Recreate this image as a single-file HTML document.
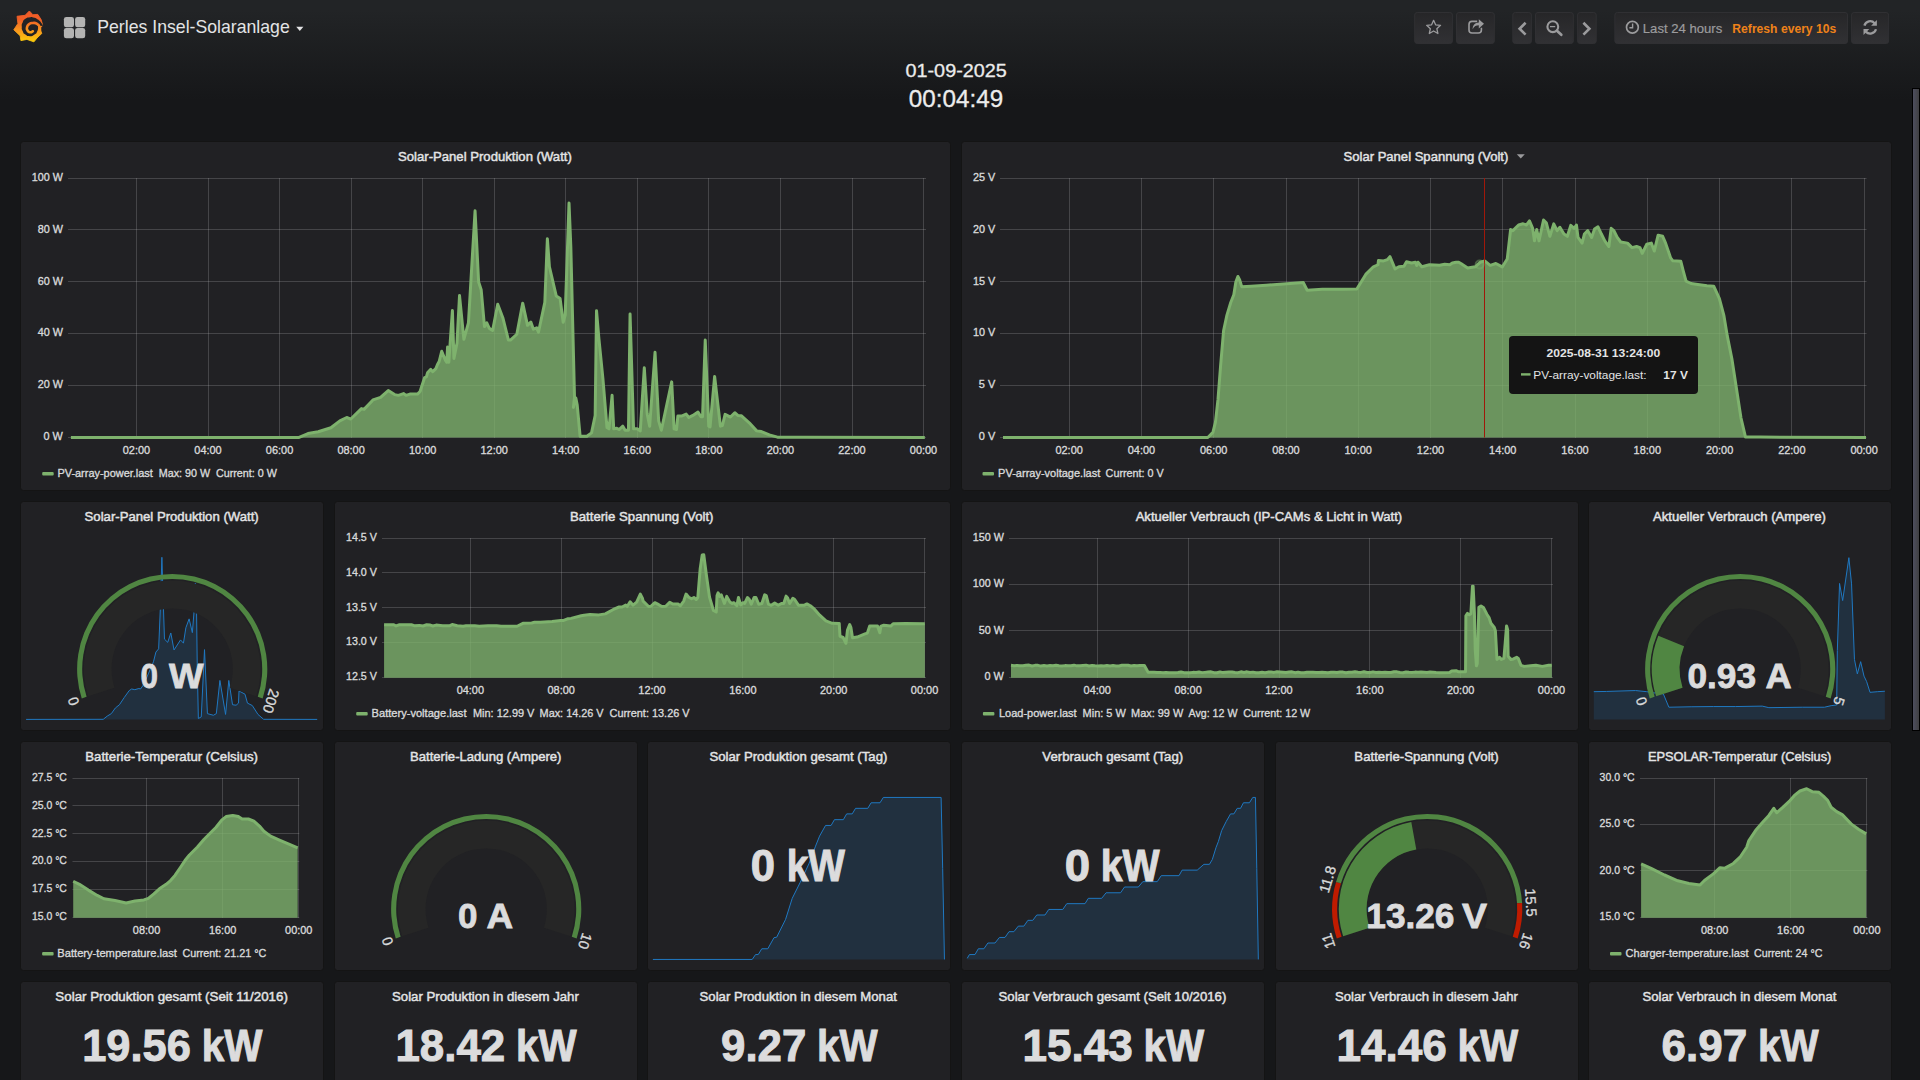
<!DOCTYPE html>
<html><head><meta charset="utf-8"><title>Grafana - Perles Insel-Solaranlage</title>
<style>
html,body{margin:0;padding:0;width:1920px;height:1080px;overflow:hidden;background:#161719;}
body{background:linear-gradient(180deg,#222426 10px,#161719 100px);font-family:"Liberation Sans",sans-serif;}
svg{position:absolute;left:0;top:0;display:block;font-family:"Liberation Sans",sans-serif;}
text{white-space:pre;}
</style></head><body>
<svg width="1920" height="1080" viewBox="0 0 1920 1080">
<defs><linearGradient id="bg1" x1="0" y1="0" x2="0" y2="1"><stop offset="0" stop-color="#262628"/><stop offset="1" stop-color="#313134"/></linearGradient></defs>
<defs><linearGradient id="lg" gradientUnits="userSpaceOnUse" x1="0" y1="11" x2="0" y2="42"><stop offset="0" stop-color="#f05a28"/><stop offset="0.28" stop-color="#f05f26"/><stop offset="0.6" stop-color="#f7931e"/><stop offset="1" stop-color="#fcce0a"/></linearGradient></defs><path d="M29.35,10.99 L32.87,14.69 L37.80,14.40 L41.14,19.61 L42.65,25.31 L40.68,27.70 L40.33,29.99 L41.84,33.40 L37.09,37.91 L33.93,41.85 L26.89,39.39 L20.91,40.62 L20.20,35.80 L13.80,29.82 L17.92,23.48 L17.04,16.27 L25.13,15.32Z" fill="url(#lg)" stroke="url(#lg)" stroke-width="0.9" stroke-linejoin="round"/><path d="M38.15,26.68C37.88,28.11 38.56,28.32 37.36,30.96C36.15,33.60 36.99,32.88 34.52,34.61C32.06,36.34 32.99,36.17 29.95,36.15C26.91,36.13 27.85,36.29 25.41,34.55C22.97,32.80 23.85,33.53 22.64,30.91C21.43,28.29 21.79,29.50 21.79,26.68C21.79,23.87 21.43,25.08 22.64,22.46C23.85,19.84 22.97,20.57 25.41,18.82C27.85,17.07 27.31,17.68 29.95,17.22C32.59,16.75 31.07,16.95 33.32,17.43C35.57,17.90 34.54,17.45 36.69,18.65C38.84,19.85 38.07,19.40 39.76,21.02C41.46,22.64 40.54,21.94 41.78,23.51C43.01,25.09 42.90,25.00 43.46,25.74L40.13,25.97Z" fill="#212225"/><path d="M39.98,31.22C39.81,29.82 40.45,29.44 39.49,27.00C38.52,24.56 39.30,25.25 37.09,23.90C34.89,22.56 35.57,22.86 32.87,22.95C30.17,23.05 30.95,22.72 29.00,24.19C27.05,25.65 27.50,25.24 27.03,27.35C26.56,29.46 26.58,28.88 27.59,30.52C28.60,32.16 28.30,32.02 30.06,32.28C31.82,32.54 31.93,31.62 32.87,31.29" fill="none" stroke="url(#lg)" stroke-width="2.6" stroke-linecap="round" stroke-linejoin="round"/>
<rect x="63.9" y="16.9" width="10.1" height="10.4" rx="2.4" fill="#b3b3b2"/>
<rect x="75.1" y="16.9" width="10.1" height="10.4" rx="2.4" fill="#b3b3b2"/>
<rect x="63.9" y="27.9" width="10.1" height="10.4" rx="2.4" fill="#b3b3b2"/>
<rect x="75.1" y="27.9" width="10.1" height="10.4" rx="2.4" fill="#b3b3b2"/>
<text x="97.25" y="33.20" font-size="18.6" fill="#e3e4e5" textLength="192.52" lengthAdjust="spacingAndGlyphs" >Perles Insel-Solaranlage</text>
<path d="M296.2,26.8h7.2l-3.6,4.2z" fill="#e3e4e5"/>
<rect x="1414.7" y="12.5" width="37.7" height="31" rx="2.5" fill="url(#bg1)" stroke="#303033"/>
<rect x="1456.5" y="12.5" width="37.8" height="31" rx="2.5" fill="url(#bg1)" stroke="#303033"/>
<rect x="1512.8" y="12.5" width="18.6" height="31" rx="2.5" fill="url(#bg1)" stroke="#303033"/>
<rect x="1535.5" y="12.5" width="37.8" height="31" rx="2.5" fill="url(#bg1)" stroke="#303033"/>
<rect x="1577.6" y="12.5" width="18.6" height="31" rx="2.5" fill="url(#bg1)" stroke="#303033"/>
<rect x="1614.9" y="12.5" width="232.6" height="31" rx="2.5" fill="url(#bg1)" stroke="#303033"/>
<rect x="1851.6" y="12.5" width="37.0" height="31" rx="2.5" fill="url(#bg1)" stroke="#303033"/>
<path d="M1433.60,20.30 L1435.60,24.85 L1440.54,25.34 L1436.83,28.65 L1437.89,33.51 L1433.60,31.00 L1429.31,33.51 L1430.37,28.65 L1426.66,25.34 L1431.60,24.85Z" fill="none" stroke="#9b9b9d" stroke-width="1.3" stroke-linejoin="round"/>
<path d="M1477.2,21.4h-5.2a3,3 0 0 0 -3,3v5.6a3,3 0 0 0 3,3h6.4a3,3 0 0 0 3,-3v-2.2" fill="none" stroke="#9b9b9d" stroke-width="1.6"/>
<path d="M1472.6,29.2c0.2,-4.6 2.6,-6.6 6.2,-6.8v-3.2l5.2,4.6l-5.2,4.6v-3.1c-2.6,0 -4.6,0.9 -6.2,3.9z" fill="#9b9b9d"/>
<path d="M1525.6,22.8l-6,5.9l6,5.9" fill="none" stroke="#9b9b9d" stroke-width="2.6"/>
<path d="M1583.4,22.8l6,5.9l-6,5.9" fill="none" stroke="#9b9b9d" stroke-width="2.6"/>
<circle cx="1552.8" cy="26.7" r="5.4" fill="none" stroke="#9b9b9d" stroke-width="2.1"/><path d="M1557.2,31.0l4.1,3.8" stroke="#9b9b9d" stroke-width="2.7" stroke-linecap="round"/><path d="M1550,26.6h5.2" stroke="#9b9b9d" stroke-width="1.3"/>
<circle cx="1632.4" cy="27.3" r="5.9" fill="none" stroke="#9b9b9d" stroke-width="1.7"/><path d="M1632.6,23.4v4.3h-3.2" fill="none" stroke="#9b9b9d" stroke-width="1.4"/>
<text x="1642.84" y="32.99" font-size="13.2" fill="#9c9c9e" textLength="79.39" lengthAdjust="spacingAndGlyphs" stroke="#9c9c9e" stroke-width="0.2" >Last 24 hours</text>
<text x="1732.34" y="32.99" font-size="13.2" fill="#ef8219" font-weight="700" textLength="103.89" lengthAdjust="spacingAndGlyphs" >Refresh every 10s</text>
<path d="M1864.4,25.6a6,6 0 0 1 10.2,-2.4" fill="none" stroke="#9b9b9d" stroke-width="2.3"/><path d="M1876.9,19.9v5.8h-5.8z" fill="#9b9b9d"/>
<path d="M1876.0,29.2a6,6 0 0 1 -10.2,2.4" fill="none" stroke="#9b9b9d" stroke-width="2.3"/><path d="M1863.5,34.9v-5.8h5.8z" fill="#9b9b9d"/>
<text x="905.53" y="77.22" font-size="19.2" fill="#ececec" textLength="101.25" lengthAdjust="spacingAndGlyphs" stroke="#ececec" stroke-width="0.3" >01-09-2025</text>
<text x="908.84" y="106.53" font-size="24.6" fill="#ececec" textLength="94.28" lengthAdjust="spacingAndGlyphs" stroke="#ececec" stroke-width="0.3" >00:04:49</text>
<defs><linearGradient id="sb" x1="0" y1="0" x2="1" y2="0"><stop offset="0" stop-color="#4d4e5e"/><stop offset="1" stop-color="#404042"/></linearGradient></defs>
<rect x="1912" y="88" width="8" height="643" fill="#000"/><rect x="1913" y="89" width="6" height="641" fill="url(#sb)"/>
<rect x="20.5" y="141.5" width="930" height="349" rx="3" fill="#212124" stroke="#141414"/>
<text x="398.04" y="160.65" font-size="13.1" fill="#e3e4e5" textLength="173.79" lengthAdjust="spacingAndGlyphs" stroke="#e3e4e5" stroke-width="0.45" >Solar-Panel Produktion (Watt)</text>
<path d="M68.0,178.5H926.0M68.0,229.5H926.0M68.0,281.5H926.0M68.0,333.5H926.0M68.0,385.5H926.0M68.0,437.5H926.0M136.5,178.0V438.0M208.5,178.0V438.0M279.5,178.0V438.0M351.5,178.0V438.0M422.5,178.0V438.0M494.5,178.0V438.0M565.5,178.0V438.0M637.5,178.0V438.0M708.5,178.0V438.0M780.5,178.0V438.0M852.5,178.0V438.0M923.5,178.0V438.0" stroke="rgba(200,200,200,0.22)" stroke-width="1" fill="none"/>
<path d="M70.90,437.50 L70.90,437.50 L280.00,437.38 L299.10,437.38 L308.01,433.56 L318.20,431.78 L330.93,427.70 L339.84,420.83 L346.72,417.52 L350.79,419.05 L361.49,408.60 L364.03,409.37 L372.95,399.95 L380.59,397.40 L388.23,390.52 L394.59,394.60 L398.41,395.36 L403.50,393.58 L406.05,395.36 L409.87,394.09 L417.51,394.09 L420.06,391.54 L424.64,377.54 L426.42,376.77 L427.70,372.44 L430.75,369.39 L432.79,371.68 L435.84,368.62 L437.37,364.81 L439.15,361.49 L441.70,351.31 L445.52,360.48 L446.79,362.26 L447.56,346.98 L448.83,362.26 L452.40,310.57 L453.92,358.44 L456.98,343.16 L459.53,295.54 L463.86,339.34 L468.44,322.79 L475.06,210.74 L478.62,282.04 L481.17,289.68 L484.48,326.61 L486.77,322.79 L489.32,328.39 L492.63,330.43 L497.72,304.20 L502.82,317.70 L508.42,340.10 L510.46,340.10 L516.82,334.25 L522.68,303.18 L527.52,325.33 L530.83,322.02 L533.37,329.15 L536.68,327.88 L538.47,332.21 L544.83,302.42 L547.38,238.75 L549.42,266.77 L556.29,296.05 L560.11,298.60 L563.17,322.28 L565.20,315.15 L569.02,203.10 L570.81,246.39 L574.50,397.32 L573.42,407.38 L575.84,397.99 L577.18,404.70 L580.13,436.24 L586.85,436.24 L591.54,432.89 L595.17,415.44 L596.51,310.74 L598.93,338.93 L602.95,379.19 L606.98,427.52 L608.99,428.86 L612.08,395.30 L613.69,428.86 L616.38,428.19 L619.06,429.53 L622.82,426.17 L625.10,430.20 L628.46,430.20 L630.07,314.09 L633.56,428.86 L637.18,428.86 L640.27,430.87 L644.30,367.79 L647.25,414.09 L649.66,426.17 L655.03,352.35 L658.66,420.81 L661.34,430.20 L671.68,381.88 L674.09,428.86 L676.51,429.53 L677.85,416.11 L681.48,416.11 L686.17,414.09 L688.86,417.45 L692.89,415.44 L697.99,412.08 L700.94,416.78 L702.55,416.78 L705.23,340.00 L708.72,426.17 L710.07,426.85 L714.63,376.51 L720.40,426.17 L722.42,425.50 L725.10,414.36 L730.47,417.05 L734.77,412.75 L737.85,415.44 L741.21,415.70 L749.26,422.82 L756.64,430.87 L761.34,431.54 L769.40,434.90 L777.45,437.18 L800.00,437.18 L924.80,437.50 L924.80,437.50Z" fill="#7eb26d" fill-opacity="0.8"/>
<path d="M70.90,437.50 L280.00,437.38 L299.10,437.38 L308.01,433.56 L318.20,431.78 L330.93,427.70 L339.84,420.83 L346.72,417.52 L350.79,419.05 L361.49,408.60 L364.03,409.37 L372.95,399.95 L380.59,397.40 L388.23,390.52 L394.59,394.60 L398.41,395.36 L403.50,393.58 L406.05,395.36 L409.87,394.09 L417.51,394.09 L420.06,391.54 L424.64,377.54 L426.42,376.77 L427.70,372.44 L430.75,369.39 L432.79,371.68 L435.84,368.62 L437.37,364.81 L439.15,361.49 L441.70,351.31 L445.52,360.48 L446.79,362.26 L447.56,346.98 L448.83,362.26 L452.40,310.57 L453.92,358.44 L456.98,343.16 L459.53,295.54 L463.86,339.34 L468.44,322.79 L475.06,210.74 L478.62,282.04 L481.17,289.68 L484.48,326.61 L486.77,322.79 L489.32,328.39 L492.63,330.43 L497.72,304.20 L502.82,317.70 L508.42,340.10 L510.46,340.10 L516.82,334.25 L522.68,303.18 L527.52,325.33 L530.83,322.02 L533.37,329.15 L536.68,327.88 L538.47,332.21 L544.83,302.42 L547.38,238.75 L549.42,266.77 L556.29,296.05 L560.11,298.60 L563.17,322.28 L565.20,315.15 L569.02,203.10 L570.81,246.39 L574.50,397.32 L573.42,407.38 L575.84,397.99 L577.18,404.70 L580.13,436.24 L586.85,436.24 L591.54,432.89 L595.17,415.44 L596.51,310.74 L598.93,338.93 L602.95,379.19 L606.98,427.52 L608.99,428.86 L612.08,395.30 L613.69,428.86 L616.38,428.19 L619.06,429.53 L622.82,426.17 L625.10,430.20 L628.46,430.20 L630.07,314.09 L633.56,428.86 L637.18,428.86 L640.27,430.87 L644.30,367.79 L647.25,414.09 L649.66,426.17 L655.03,352.35 L658.66,420.81 L661.34,430.20 L671.68,381.88 L674.09,428.86 L676.51,429.53 L677.85,416.11 L681.48,416.11 L686.17,414.09 L688.86,417.45 L692.89,415.44 L697.99,412.08 L700.94,416.78 L702.55,416.78 L705.23,340.00 L708.72,426.17 L710.07,426.85 L714.63,376.51 L720.40,426.17 L722.42,425.50 L725.10,414.36 L730.47,417.05 L734.77,412.75 L737.85,415.44 L741.21,415.70 L749.26,422.82 L756.64,430.87 L761.34,431.54 L769.40,434.90 L777.45,437.18 L800.00,437.18 L924.80,437.50" stroke="#7eb26d" stroke-width="3" fill="none" stroke-linejoin="round"/>
<text x="31.83" y="180.91" font-size="11.3" fill="#d8d9da" textLength="31.05" lengthAdjust="spacingAndGlyphs" stroke="#d8d9da" stroke-width="0.35" >100 W</text>
<text x="37.68" y="232.71" font-size="11.3" fill="#d8d9da" textLength="25.21" lengthAdjust="spacingAndGlyphs" stroke="#d8d9da" stroke-width="0.35" >80 W</text>
<text x="37.68" y="284.51" font-size="11.3" fill="#d8d9da" textLength="25.21" lengthAdjust="spacingAndGlyphs" stroke="#d8d9da" stroke-width="0.35" >60 W</text>
<text x="37.68" y="336.31" font-size="11.3" fill="#d8d9da" textLength="25.21" lengthAdjust="spacingAndGlyphs" stroke="#d8d9da" stroke-width="0.35" >40 W</text>
<text x="37.68" y="388.11" font-size="11.3" fill="#d8d9da" textLength="25.21" lengthAdjust="spacingAndGlyphs" stroke="#d8d9da" stroke-width="0.35" >20 W</text>
<text x="43.52" y="439.91" font-size="11.3" fill="#d8d9da" textLength="19.36" lengthAdjust="spacingAndGlyphs" stroke="#d8d9da" stroke-width="0.35" >0 W</text>
<text x="122.75" y="454.21" font-size="11.3" fill="#d8d9da" textLength="27.38" lengthAdjust="spacingAndGlyphs" stroke="#d8d9da" stroke-width="0.35" >02:00</text>
<text x="194.30" y="454.21" font-size="11.3" fill="#d8d9da" textLength="27.38" lengthAdjust="spacingAndGlyphs" stroke="#d8d9da" stroke-width="0.35" >04:00</text>
<text x="265.85" y="454.21" font-size="11.3" fill="#d8d9da" textLength="27.38" lengthAdjust="spacingAndGlyphs" stroke="#d8d9da" stroke-width="0.35" >06:00</text>
<text x="337.40" y="454.21" font-size="11.3" fill="#d8d9da" textLength="27.38" lengthAdjust="spacingAndGlyphs" stroke="#d8d9da" stroke-width="0.35" >08:00</text>
<text x="408.95" y="454.21" font-size="11.3" fill="#d8d9da" textLength="27.38" lengthAdjust="spacingAndGlyphs" stroke="#d8d9da" stroke-width="0.35" >10:00</text>
<text x="480.50" y="454.21" font-size="11.3" fill="#d8d9da" textLength="27.38" lengthAdjust="spacingAndGlyphs" stroke="#d8d9da" stroke-width="0.35" >12:00</text>
<text x="552.05" y="454.21" font-size="11.3" fill="#d8d9da" textLength="27.38" lengthAdjust="spacingAndGlyphs" stroke="#d8d9da" stroke-width="0.35" >14:00</text>
<text x="623.60" y="454.21" font-size="11.3" fill="#d8d9da" textLength="27.38" lengthAdjust="spacingAndGlyphs" stroke="#d8d9da" stroke-width="0.35" >16:00</text>
<text x="695.15" y="454.21" font-size="11.3" fill="#d8d9da" textLength="27.38" lengthAdjust="spacingAndGlyphs" stroke="#d8d9da" stroke-width="0.35" >18:00</text>
<text x="766.70" y="454.21" font-size="11.3" fill="#d8d9da" textLength="27.38" lengthAdjust="spacingAndGlyphs" stroke="#d8d9da" stroke-width="0.35" >20:00</text>
<text x="838.25" y="454.21" font-size="11.3" fill="#d8d9da" textLength="27.38" lengthAdjust="spacingAndGlyphs" stroke="#d8d9da" stroke-width="0.35" >22:00</text>
<text x="909.80" y="454.21" font-size="11.3" fill="#d8d9da" textLength="27.38" lengthAdjust="spacingAndGlyphs" stroke="#d8d9da" stroke-width="0.35" >00:00</text>
<rect x="42.2" y="472.0" width="11.5" height="3.6" rx="1" fill="#7eb26d"/>
<text x="57.40" y="477.21" font-size="11.3" fill="#d8d9da" textLength="95.48" lengthAdjust="spacingAndGlyphs" stroke="#d8d9da" stroke-width="0.35" >PV-array-power.last</text>
<text x="158.80" y="477.21" font-size="11.3" fill="#d8d9da" textLength="51.38" lengthAdjust="spacingAndGlyphs" stroke="#d8d9da" stroke-width="0.35" >Max: 90 W</text>
<text x="215.90" y="477.21" font-size="11.3" fill="#d8d9da" textLength="60.98" lengthAdjust="spacingAndGlyphs" stroke="#d8d9da" stroke-width="0.35" >Current: 0 W</text>
<rect x="961.5" y="141.5" width="930" height="349" rx="3" fill="#212124" stroke="#141414"/>
<text x="1343.54" y="160.65" font-size="13.1" fill="#e3e4e5" textLength="164.79" lengthAdjust="spacingAndGlyphs" stroke="#e3e4e5" stroke-width="0.45" >Solar Panel Spannung (Volt)</text>
<path d="M1516.8,154.2h8l-4,4.4z" fill="#9a9a9c"/>
<path d="M1000.0,178.5H1866.5M1000.0,229.5H1866.5M1000.0,281.5H1866.5M1000.0,333.5H1866.5M1000.0,385.5H1866.5M1000.0,437.5H1866.5M1069.5,178.0V438.0M1141.5,178.0V438.0M1213.5,178.0V438.0M1286.5,178.0V438.0M1358.5,178.0V438.0M1430.5,178.0V438.0M1502.5,178.0V438.0M1575.5,178.0V438.0M1647.5,178.0V438.0M1719.5,178.0V438.0M1791.5,178.0V438.0M1864.5,178.0V438.0" stroke="rgba(200,200,200,0.22)" stroke-width="1" fill="none"/>
<path d="M1003.00,437.50 L1003.00,437.50 L1190.00,437.45 L1207.83,437.45 L1212.92,432.35 L1215.47,422.17 L1218.02,399.24 L1220.57,366.13 L1223.62,330.47 L1226.93,315.19 L1230.75,302.45 L1233.81,294.81 L1235.85,282.07 L1237.89,276.47 L1239.67,280.04 L1241.71,286.66 L1251.13,286.15 L1266.41,285.13 L1286.79,283.86 L1303.35,282.58 L1307.17,290.22 L1322.45,289.21 L1342.83,289.21 L1356.84,288.95 L1365.75,274.43 L1373.39,266.79 L1377.98,264.75 L1378.49,260.42 L1383.58,260.93 L1387.40,259.66 L1389.95,256.60 L1395.04,268.83 L1398.86,266.79 L1403.96,266.28 L1406.51,261.70 L1411.60,262.97 L1415.42,262.21 L1416.69,265.52 L1417.97,262.21 L1421.79,266.79 L1429.43,264.75 L1439.62,265.26 L1444.71,264.24 L1449.81,264.75 L1452.35,262.97 L1456.17,262.21 L1458.72,262.21 L1461.27,263.73 L1467.64,268.06 L1475.28,266.79 L1480.37,262.21 L1484.70,260.93 L1490.21,265.35 L1495.88,263.54 L1502.24,266.94 L1507.23,259.00 L1510.63,229.50 L1512.90,230.63 L1518.57,224.96 L1523.11,223.83 L1526.52,224.96 L1529.47,220.88 L1532.64,228.36 L1534.46,240.84 L1536.73,229.50 L1539.00,240.84 L1543.54,219.97 L1546.26,222.69 L1549.89,236.31 L1553.75,223.83 L1557.15,230.63 L1559.87,227.23 L1563.96,234.04 L1567.36,236.31 L1570.76,225.41 L1574.17,228.36 L1576.44,224.96 L1578.03,237.44 L1582.11,243.11 L1584.38,234.04 L1587.78,230.63 L1591.64,237.44 L1594.59,229.04 L1597.99,226.78 L1601.40,234.04 L1604.80,240.84 L1608.89,246.52 L1611.15,228.36 L1613.88,230.63 L1617.28,237.44 L1620.69,241.98 L1627.49,243.11 L1632.03,247.65 L1636.57,246.52 L1639.97,247.65 L1642.24,253.32 L1646.78,244.25 L1651.32,243.11 L1654.27,251.06 L1658.13,235.17 L1662.66,236.31 L1665.61,243.11 L1670.61,257.86 L1672.87,260.81 L1680.82,261.27 L1683.09,270.34 L1686.04,281.23 L1691.03,283.50 L1697.84,284.41 L1706.91,285.77 L1713.72,286.23 L1719.39,298.71 L1723.93,315.72 L1727.33,336.15 L1731.87,358.84 L1736.41,388.34 L1740.95,417.84 L1745.49,437.12 L1760.01,437.12 L1866.00,437.50 L1866.00,437.50Z" fill="#7eb26d" fill-opacity="0.8"/>
<path d="M1003.00,437.50 L1190.00,437.45 L1207.83,437.45 L1212.92,432.35 L1215.47,422.17 L1218.02,399.24 L1220.57,366.13 L1223.62,330.47 L1226.93,315.19 L1230.75,302.45 L1233.81,294.81 L1235.85,282.07 L1237.89,276.47 L1239.67,280.04 L1241.71,286.66 L1251.13,286.15 L1266.41,285.13 L1286.79,283.86 L1303.35,282.58 L1307.17,290.22 L1322.45,289.21 L1342.83,289.21 L1356.84,288.95 L1365.75,274.43 L1373.39,266.79 L1377.98,264.75 L1378.49,260.42 L1383.58,260.93 L1387.40,259.66 L1389.95,256.60 L1395.04,268.83 L1398.86,266.79 L1403.96,266.28 L1406.51,261.70 L1411.60,262.97 L1415.42,262.21 L1416.69,265.52 L1417.97,262.21 L1421.79,266.79 L1429.43,264.75 L1439.62,265.26 L1444.71,264.24 L1449.81,264.75 L1452.35,262.97 L1456.17,262.21 L1458.72,262.21 L1461.27,263.73 L1467.64,268.06 L1475.28,266.79 L1480.37,262.21 L1484.70,260.93 L1490.21,265.35 L1495.88,263.54 L1502.24,266.94 L1507.23,259.00 L1510.63,229.50 L1512.90,230.63 L1518.57,224.96 L1523.11,223.83 L1526.52,224.96 L1529.47,220.88 L1532.64,228.36 L1534.46,240.84 L1536.73,229.50 L1539.00,240.84 L1543.54,219.97 L1546.26,222.69 L1549.89,236.31 L1553.75,223.83 L1557.15,230.63 L1559.87,227.23 L1563.96,234.04 L1567.36,236.31 L1570.76,225.41 L1574.17,228.36 L1576.44,224.96 L1578.03,237.44 L1582.11,243.11 L1584.38,234.04 L1587.78,230.63 L1591.64,237.44 L1594.59,229.04 L1597.99,226.78 L1601.40,234.04 L1604.80,240.84 L1608.89,246.52 L1611.15,228.36 L1613.88,230.63 L1617.28,237.44 L1620.69,241.98 L1627.49,243.11 L1632.03,247.65 L1636.57,246.52 L1639.97,247.65 L1642.24,253.32 L1646.78,244.25 L1651.32,243.11 L1654.27,251.06 L1658.13,235.17 L1662.66,236.31 L1665.61,243.11 L1670.61,257.86 L1672.87,260.81 L1680.82,261.27 L1683.09,270.34 L1686.04,281.23 L1691.03,283.50 L1697.84,284.41 L1706.91,285.77 L1713.72,286.23 L1719.39,298.71 L1723.93,315.72 L1727.33,336.15 L1731.87,358.84 L1736.41,388.34 L1740.95,417.84 L1745.49,437.12 L1760.01,437.12 L1866.00,437.50" stroke="#7eb26d" stroke-width="3" fill="none" stroke-linejoin="round"/>
<text x="972.99" y="180.91" font-size="11.3" fill="#d8d9da" textLength="22.30" lengthAdjust="spacingAndGlyphs" stroke="#d8d9da" stroke-width="0.35" >25 V</text>
<text x="972.99" y="232.71" font-size="11.3" fill="#d8d9da" textLength="22.30" lengthAdjust="spacingAndGlyphs" stroke="#d8d9da" stroke-width="0.35" >20 V</text>
<text x="972.99" y="284.51" font-size="11.3" fill="#d8d9da" textLength="22.30" lengthAdjust="spacingAndGlyphs" stroke="#d8d9da" stroke-width="0.35" >15 V</text>
<text x="972.99" y="336.31" font-size="11.3" fill="#d8d9da" textLength="22.30" lengthAdjust="spacingAndGlyphs" stroke="#d8d9da" stroke-width="0.35" >10 V</text>
<text x="978.83" y="388.11" font-size="11.3" fill="#d8d9da" textLength="16.45" lengthAdjust="spacingAndGlyphs" stroke="#d8d9da" stroke-width="0.35" >5 V</text>
<text x="978.83" y="439.91" font-size="11.3" fill="#d8d9da" textLength="16.45" lengthAdjust="spacingAndGlyphs" stroke="#d8d9da" stroke-width="0.35" >0 V</text>
<text x="1055.45" y="454.21" font-size="11.3" fill="#d8d9da" textLength="27.38" lengthAdjust="spacingAndGlyphs" stroke="#d8d9da" stroke-width="0.35" >02:00</text>
<text x="1127.72" y="454.21" font-size="11.3" fill="#d8d9da" textLength="27.38" lengthAdjust="spacingAndGlyphs" stroke="#d8d9da" stroke-width="0.35" >04:00</text>
<text x="1199.99" y="454.21" font-size="11.3" fill="#d8d9da" textLength="27.38" lengthAdjust="spacingAndGlyphs" stroke="#d8d9da" stroke-width="0.35" >06:00</text>
<text x="1272.26" y="454.21" font-size="11.3" fill="#d8d9da" textLength="27.38" lengthAdjust="spacingAndGlyphs" stroke="#d8d9da" stroke-width="0.35" >08:00</text>
<text x="1344.53" y="454.21" font-size="11.3" fill="#d8d9da" textLength="27.38" lengthAdjust="spacingAndGlyphs" stroke="#d8d9da" stroke-width="0.35" >10:00</text>
<text x="1416.80" y="454.21" font-size="11.3" fill="#d8d9da" textLength="27.38" lengthAdjust="spacingAndGlyphs" stroke="#d8d9da" stroke-width="0.35" >12:00</text>
<text x="1489.07" y="454.21" font-size="11.3" fill="#d8d9da" textLength="27.38" lengthAdjust="spacingAndGlyphs" stroke="#d8d9da" stroke-width="0.35" >14:00</text>
<text x="1561.34" y="454.21" font-size="11.3" fill="#d8d9da" textLength="27.38" lengthAdjust="spacingAndGlyphs" stroke="#d8d9da" stroke-width="0.35" >16:00</text>
<text x="1633.61" y="454.21" font-size="11.3" fill="#d8d9da" textLength="27.38" lengthAdjust="spacingAndGlyphs" stroke="#d8d9da" stroke-width="0.35" >18:00</text>
<text x="1705.88" y="454.21" font-size="11.3" fill="#d8d9da" textLength="27.38" lengthAdjust="spacingAndGlyphs" stroke="#d8d9da" stroke-width="0.35" >20:00</text>
<text x="1778.15" y="454.21" font-size="11.3" fill="#d8d9da" textLength="27.38" lengthAdjust="spacingAndGlyphs" stroke="#d8d9da" stroke-width="0.35" >22:00</text>
<text x="1850.42" y="454.21" font-size="11.3" fill="#d8d9da" textLength="27.38" lengthAdjust="spacingAndGlyphs" stroke="#d8d9da" stroke-width="0.35" >00:00</text>
<rect x="982.5" y="472.0" width="11.5" height="3.6" rx="1" fill="#7eb26d"/>
<text x="998.10" y="477.21" font-size="11.3" fill="#d8d9da" textLength="102.18" lengthAdjust="spacingAndGlyphs" stroke="#d8d9da" stroke-width="0.35" >PV-array-voltage.last</text>
<text x="1105.60" y="477.21" font-size="11.3" fill="#d8d9da" textLength="58.18" lengthAdjust="spacingAndGlyphs" stroke="#d8d9da" stroke-width="0.35" >Current: 0 V</text>
<path d="M1484.5,178V437.5" stroke="rgb(160,24,10)" stroke-width="1"/>
<circle cx="1479.6" cy="264.6" r="4" fill="none" stroke="rgba(126,178,109,0.45)" stroke-width="2"/>
<rect x="1509" y="336" width="189" height="58" rx="4" fill="#141414"/>
<text x="1546.49" y="356.99" font-size="11.8" fill="#e3e4e5" font-weight="700" textLength="113.71" lengthAdjust="spacingAndGlyphs" >2025-08-31 13:24:00</text>
<rect x="1521" y="373.2" width="9.6" height="2.4" fill="#7eb26d"/>
<text x="1533.39" y="378.79" font-size="11.8" fill="#e3e4e5" textLength="113.21" lengthAdjust="spacingAndGlyphs" >PV-array-voltage.last:</text>
<text x="1663.39" y="378.79" font-size="11.8" fill="#e3e4e5" font-weight="700" textLength="24.51" lengthAdjust="spacingAndGlyphs" >17 V</text>
<rect x="20.5" y="501.5" width="303" height="229" rx="3" fill="#212124" stroke="#141414"/>
<path d="M26.10,719.40 L26.10,719.40 L100.00,719.31 L103.24,719.31 L107.29,716.07 L111.34,713.64 L115.39,707.97 L119.44,704.73 L124.30,697.44 L129.16,690.64 L131.59,689.01 L134.83,689.66 L138.89,688.53 L140.51,689.01 L143.75,684.48 L148.61,673.14 L153.47,661.80 L155.90,652.07 L158.65,648.83 L160.27,609.95 L161.89,557.29 L163.51,609.95 L164.48,639.11 L167.73,642.35 L170.80,632.96 L174.04,649.97 L180.52,639.92 L183.44,643.16 L185.87,627.77 L189.11,618.86 L192.35,632.63 L193.97,612.38 L195.27,583.21 L196.57,613.19 L197.21,663.42 L198.35,718.50 L201.26,716.88 L204.50,649.64 L207.42,713.64 L213.42,715.26 L216.33,713.64 L219.90,680.43 L225.57,714.45 L228.81,680.43 L232.53,704.73 L236.10,705.22 L238.53,703.11 L239.01,690.96 L245.01,694.20 L247.44,703.11 L252.30,705.54 L257.97,714.45 L263.64,719.31 L317.20,719.40 L317.20,719.40Z" fill="rgb(31,118,189)" fill-opacity="0.18"/>
<path d="M26.10,719.40 L100.00,719.31 L103.24,719.31 L107.29,716.07 L111.34,713.64 L115.39,707.97 L119.44,704.73 L124.30,697.44 L129.16,690.64 L131.59,689.01 L134.83,689.66 L138.89,688.53 L140.51,689.01 L143.75,684.48 L148.61,673.14 L153.47,661.80 L155.90,652.07 L158.65,648.83 L160.27,609.95 L161.89,557.29 L163.51,609.95 L164.48,639.11 L167.73,642.35 L170.80,632.96 L174.04,649.97 L180.52,639.92 L183.44,643.16 L185.87,627.77 L189.11,618.86 L192.35,632.63 L193.97,612.38 L195.27,583.21 L196.57,613.19 L197.21,663.42 L198.35,718.50 L201.26,716.88 L204.50,649.64 L207.42,713.64 L213.42,715.26 L216.33,713.64 L219.90,680.43 L225.57,714.45 L228.81,680.43 L232.53,704.73 L236.10,705.22 L238.53,703.11 L239.01,690.96 L245.01,694.20 L247.44,703.11 L252.30,705.54 L257.97,714.45 L263.64,719.31 L317.20,719.40" stroke="rgb(31,120,193)" stroke-width="1" fill="none" stroke-linejoin="round"/>
<path d="M88.13,696.32A88.4,88.4 0 1 1 256.27,696.32L229.83,687.73A60.6,60.6 0 1 0 114.57,687.73Z" fill="#262626"/>
<path d="M81.75,698.39A95.1,95.1 0 1 1 262.65,698.39L257.80,696.81A90.0,90.0 0 1 0 86.60,696.81Z" fill="#508642"/>
<text x="0" y="0" font-size="14.5" fill="#d8d9da" stroke="#d8d9da" stroke-width="0.35" text-anchor="middle" transform="translate(73.29,701.14) rotate(252.00) translate(0,5.1)">0</text>
<text x="0" y="0" font-size="14.5" fill="#d8d9da" stroke="#d8d9da" stroke-width="0.35" text-anchor="middle" transform="translate(271.11,701.14) rotate(468.00) translate(0,5.1)">200</text>
<text x="140.50" y="688.24" font-size="34.2" fill="#dcdcdd" font-weight="700" textLength="17.45" lengthAdjust="spacingAndGlyphs" stroke="#dcdcdd" stroke-width="0.8" >0</text>
<text x="168.90" y="688.24" font-size="34.2" fill="#dcdcdd" font-weight="700" textLength="34.45" lengthAdjust="spacingAndGlyphs" stroke="#dcdcdd" stroke-width="0.8" >W</text>
<text x="84.59" y="520.65" font-size="13.1" fill="#e3e4e5" textLength="174.09" lengthAdjust="spacingAndGlyphs" stroke="#e3e4e5" stroke-width="0.45" >Solar-Panel Produktion (Watt)</text>
<rect x="334.5" y="501.5" width="616" height="229" rx="3" fill="#212124" stroke="#141414"/>
<text x="569.99" y="520.65" font-size="13.1" fill="#e3e4e5" textLength="143.49" lengthAdjust="spacingAndGlyphs" stroke="#e3e4e5" stroke-width="0.45" >Batterie Spannung (Volt)</text>
<path d="M382.0,538.5H926.0M382.0,572.5H926.0M382.0,607.5H926.0M382.0,642.5H926.0M382.0,677.5H926.0M470.5,538.0V678.0M561.5,538.0V678.0M652.5,538.0V678.0M742.5,538.0V678.0M833.5,538.0V678.0M924.5,538.0V678.0" stroke="rgba(200,200,200,0.22)" stroke-width="1" fill="none"/>
<path d="M384.08,677.70 L384.08,624.79 L393.85,624.79 L396.04,625.96 L398.96,624.79 L411.35,624.79 L414.27,625.67 L419.38,625.38 L423.02,625.96 L426.67,624.79 L430.31,625.09 L432.79,625.96 L436.15,625.09 L442.71,625.67 L450.00,625.67 L452.19,624.50 L457.29,625.67 L463.13,626.25 L466.04,625.67 L474.79,625.67 L479.17,626.25 L487.92,625.67 L496.67,625.67 L501.04,626.25 L517.09,626.25 L522.92,623.34 L531.67,623.04 L534.59,622.31 L540.42,622.17 L552.09,621.59 L560.84,620.42 L563.75,620.42 L568.13,618.67 L571.05,618.38 L581.25,615.75 L584.17,615.17 L590.00,614.59 L598.75,614.88 L605.32,613.86 L613.34,609.48 L619.17,607.00 L622.09,607.00 L625.73,605.11 L627.19,606.56 L630.11,601.75 L633.03,605.11 L636.67,602.19 L640.32,594.17 L642.51,598.54 L643.12,601.09 L648.59,606.56 L650.94,606.25 L654.84,602.66 L658.75,604.69 L661.88,606.56 L665.78,606.25 L669.69,602.19 L672.81,604.06 L678.28,604.06 L680.31,605.78 L683.75,601.09 L686.09,594.06 L688.75,597.19 L691.56,598.75 L693.91,597.50 L696.25,599.53 L697.81,597.50 L700.16,569.06 L702.19,555.00 L703.75,554.69 L706.41,575.31 L709.53,597.19 L713.44,610.47 L716.25,612.03 L717.03,595.62 L718.12,592.81 L719.69,596.41 L721.25,594.84 L724.38,603.44 L726.72,596.41 L729.84,601.88 L732.19,603.44 L733.75,602.66 L736.88,605.78 L738.44,597.50 L740.78,605.00 L743.12,602.66 L744.69,603.44 L747.50,597.50 L749.38,599.53 L751.25,604.22 L754.06,597.50 L755.94,597.50 L758.75,604.22 L761.88,603.44 L764.69,594.84 L766.25,595.62 L768.44,604.22 L771.25,605.31 L774.69,603.12 L778.28,605.31 L781.41,603.44 L783.75,603.44 L786.09,596.09 L787.66,597.97 L789.69,603.44 L792.81,598.28 L794.69,599.53 L798.59,605.31 L804.06,605.31 L806.88,603.91 L810.31,605.78 L814.22,608.91 L819.69,615.16 L825.94,620.94 L832.19,623.28 L839.22,623.44 L840.00,636.25 L843.12,637.50 L845.94,643.28 L847.50,630.00 L849.69,624.53 L850.94,627.66 L852.50,637.81 L857.19,637.03 L865.00,633.91 L867.34,633.12 L869.69,626.09 L877.50,626.09 L879.84,632.81 L880.94,626.09 L883.75,625.31 L890.78,626.09 L893.12,623.75 L905.62,623.44 L924.84,623.75 L924.84,677.70Z" fill="#7eb26d" fill-opacity="0.8"/>
<path d="M384.08,624.79 L393.85,624.79 L396.04,625.96 L398.96,624.79 L411.35,624.79 L414.27,625.67 L419.38,625.38 L423.02,625.96 L426.67,624.79 L430.31,625.09 L432.79,625.96 L436.15,625.09 L442.71,625.67 L450.00,625.67 L452.19,624.50 L457.29,625.67 L463.13,626.25 L466.04,625.67 L474.79,625.67 L479.17,626.25 L487.92,625.67 L496.67,625.67 L501.04,626.25 L517.09,626.25 L522.92,623.34 L531.67,623.04 L534.59,622.31 L540.42,622.17 L552.09,621.59 L560.84,620.42 L563.75,620.42 L568.13,618.67 L571.05,618.38 L581.25,615.75 L584.17,615.17 L590.00,614.59 L598.75,614.88 L605.32,613.86 L613.34,609.48 L619.17,607.00 L622.09,607.00 L625.73,605.11 L627.19,606.56 L630.11,601.75 L633.03,605.11 L636.67,602.19 L640.32,594.17 L642.51,598.54 L643.12,601.09 L648.59,606.56 L650.94,606.25 L654.84,602.66 L658.75,604.69 L661.88,606.56 L665.78,606.25 L669.69,602.19 L672.81,604.06 L678.28,604.06 L680.31,605.78 L683.75,601.09 L686.09,594.06 L688.75,597.19 L691.56,598.75 L693.91,597.50 L696.25,599.53 L697.81,597.50 L700.16,569.06 L702.19,555.00 L703.75,554.69 L706.41,575.31 L709.53,597.19 L713.44,610.47 L716.25,612.03 L717.03,595.62 L718.12,592.81 L719.69,596.41 L721.25,594.84 L724.38,603.44 L726.72,596.41 L729.84,601.88 L732.19,603.44 L733.75,602.66 L736.88,605.78 L738.44,597.50 L740.78,605.00 L743.12,602.66 L744.69,603.44 L747.50,597.50 L749.38,599.53 L751.25,604.22 L754.06,597.50 L755.94,597.50 L758.75,604.22 L761.88,603.44 L764.69,594.84 L766.25,595.62 L768.44,604.22 L771.25,605.31 L774.69,603.12 L778.28,605.31 L781.41,603.44 L783.75,603.44 L786.09,596.09 L787.66,597.97 L789.69,603.44 L792.81,598.28 L794.69,599.53 L798.59,605.31 L804.06,605.31 L806.88,603.91 L810.31,605.78 L814.22,608.91 L819.69,615.16 L825.94,620.94 L832.19,623.28 L839.22,623.44 L840.00,636.25 L843.12,637.50 L845.94,643.28 L847.50,630.00 L849.69,624.53 L850.94,627.66 L852.50,637.81 L857.19,637.03 L865.00,633.91 L867.34,633.12 L869.69,626.09 L877.50,626.09 L879.84,632.81 L880.94,626.09 L883.75,625.31 L890.78,626.09 L893.12,623.75 L905.62,623.44 L924.84,623.75" stroke="#7eb26d" stroke-width="3" fill="none" stroke-linejoin="round"/>
<text x="346.00" y="541.01" font-size="11.3" fill="#d8d9da" textLength="30.88" lengthAdjust="spacingAndGlyphs" stroke="#d8d9da" stroke-width="0.35" >14.5 V</text>
<text x="346.00" y="575.76" font-size="11.3" fill="#d8d9da" textLength="30.88" lengthAdjust="spacingAndGlyphs" stroke="#d8d9da" stroke-width="0.35" >14.0 V</text>
<text x="346.00" y="610.51" font-size="11.3" fill="#d8d9da" textLength="30.88" lengthAdjust="spacingAndGlyphs" stroke="#d8d9da" stroke-width="0.35" >13.5 V</text>
<text x="346.00" y="645.26" font-size="11.3" fill="#d8d9da" textLength="30.88" lengthAdjust="spacingAndGlyphs" stroke="#d8d9da" stroke-width="0.35" >13.0 V</text>
<text x="346.00" y="680.01" font-size="11.3" fill="#d8d9da" textLength="30.88" lengthAdjust="spacingAndGlyphs" stroke="#d8d9da" stroke-width="0.35" >12.5 V</text>
<text x="456.65" y="693.91" font-size="11.3" fill="#d8d9da" textLength="27.38" lengthAdjust="spacingAndGlyphs" stroke="#d8d9da" stroke-width="0.35" >04:00</text>
<text x="547.49" y="693.91" font-size="11.3" fill="#d8d9da" textLength="27.38" lengthAdjust="spacingAndGlyphs" stroke="#d8d9da" stroke-width="0.35" >08:00</text>
<text x="638.33" y="693.91" font-size="11.3" fill="#d8d9da" textLength="27.38" lengthAdjust="spacingAndGlyphs" stroke="#d8d9da" stroke-width="0.35" >12:00</text>
<text x="729.17" y="693.91" font-size="11.3" fill="#d8d9da" textLength="27.38" lengthAdjust="spacingAndGlyphs" stroke="#d8d9da" stroke-width="0.35" >16:00</text>
<text x="820.01" y="693.91" font-size="11.3" fill="#d8d9da" textLength="27.38" lengthAdjust="spacingAndGlyphs" stroke="#d8d9da" stroke-width="0.35" >20:00</text>
<text x="910.85" y="693.91" font-size="11.3" fill="#d8d9da" textLength="27.38" lengthAdjust="spacingAndGlyphs" stroke="#d8d9da" stroke-width="0.35" >00:00</text>
<rect x="356.2" y="712.0" width="11.5" height="3.6" rx="1" fill="#7eb26d"/>
<text x="371.60" y="717.21" font-size="11.3" fill="#d8d9da" textLength="94.88" lengthAdjust="spacingAndGlyphs" stroke="#d8d9da" stroke-width="0.35" >Battery-voltage.last</text>
<text x="473.00" y="717.21" font-size="11.3" fill="#d8d9da" textLength="61.38" lengthAdjust="spacingAndGlyphs" stroke="#d8d9da" stroke-width="0.35" >Min: 12.99 V</text>
<text x="539.60" y="717.21" font-size="11.3" fill="#d8d9da" textLength="63.98" lengthAdjust="spacingAndGlyphs" stroke="#d8d9da" stroke-width="0.35" >Max: 14.26 V</text>
<text x="609.50" y="717.21" font-size="11.3" fill="#d8d9da" textLength="80.08" lengthAdjust="spacingAndGlyphs" stroke="#d8d9da" stroke-width="0.35" >Current: 13.26 V</text>
<rect x="961.5" y="501.5" width="617" height="229" rx="3" fill="#212124" stroke="#141414"/>
<text x="1135.64" y="520.65" font-size="13.1" fill="#e3e4e5" textLength="266.59" lengthAdjust="spacingAndGlyphs" stroke="#e3e4e5" stroke-width="0.45" >Aktueller Verbrauch (IP-CAMs &amp; Licht in Watt)</text>
<path d="M1009.0,538.5H1553.0M1009.0,584.5H1553.0M1009.0,630.5H1553.0M1009.0,677.5H1553.0M1097.5,538.0V678.0M1188.5,538.0V678.0M1279.5,538.0V678.0M1369.5,538.0V678.0M1460.5,538.0V678.0M1551.5,538.0V678.0" stroke="rgba(200,200,200,0.22)" stroke-width="1" fill="none"/>
<path d="M1011.00,677.70 L1011.00,665.34 L1014.00,665.64 L1017.00,665.47 L1020.00,665.70 L1023.00,665.73 L1026.00,665.17 L1029.00,665.11 L1032.00,665.94 L1035.00,665.36 L1038.00,665.33 L1041.00,666.10 L1044.00,665.57 L1047.00,665.94 L1050.00,665.58 L1053.00,665.74 L1056.00,665.25 L1059.00,665.73 L1062.00,665.97 L1065.00,665.62 L1068.00,665.84 L1071.00,665.77 L1074.00,665.16 L1077.00,665.86 L1080.00,665.69 L1083.00,665.40 L1086.00,665.13 L1089.00,665.97 L1092.00,665.57 L1095.00,665.82 L1098.00,665.98 L1101.00,665.81 L1104.00,666.02 L1107.00,665.49 L1110.00,665.90 L1113.00,665.54 L1116.00,666.04 L1119.00,665.98 L1122.00,665.20 L1125.00,665.24 L1128.00,665.32 L1131.00,666.07 L1134.00,665.54 L1137.00,665.73 L1140.00,665.40 L1143.00,665.61 L1144.40,665.60 L1148.10,672.20 L1151.00,672.19 L1154.00,672.15 L1157.00,672.39 L1160.00,672.38 L1163.00,672.70 L1166.00,672.48 L1169.00,672.73 L1172.00,672.66 L1175.00,672.79 L1178.00,672.47 L1181.00,671.96 L1184.00,672.66 L1187.00,672.76 L1190.00,672.70 L1193.00,672.37 L1196.00,672.51 L1199.00,672.01 L1202.00,672.63 L1205.00,672.37 L1208.00,672.08 L1211.00,671.86 L1214.00,672.65 L1217.00,672.79 L1220.00,671.89 L1223.00,672.60 L1226.00,672.21 L1229.00,671.95 L1232.00,672.09 L1235.00,672.57 L1238.00,672.67 L1241.00,671.84 L1244.00,672.41 L1247.00,671.84 L1250.00,672.52 L1253.00,672.13 L1256.00,672.68 L1259.00,672.78 L1262.00,672.31 L1265.00,672.80 L1268.00,672.11 L1271.00,671.88 L1274.00,672.40 L1277.00,671.83 L1280.00,672.00 L1283.00,672.21 L1286.00,672.41 L1289.00,671.96 L1292.00,671.84 L1295.00,672.67 L1298.00,672.11 L1301.00,672.76 L1304.00,672.70 L1307.00,672.18 L1310.00,672.26 L1313.00,672.32 L1316.00,672.44 L1319.00,672.40 L1322.00,672.36 L1325.00,672.42 L1328.00,672.74 L1331.00,672.31 L1334.00,672.23 L1337.00,672.52 L1340.00,672.04 L1343.00,672.10 L1346.00,672.78 L1349.00,672.32 L1352.00,672.35 L1355.00,671.81 L1358.00,672.22 L1361.00,672.38 L1364.00,671.82 L1367.00,672.42 L1370.00,672.43 L1373.00,671.86 L1376.00,672.43 L1379.00,672.27 L1382.00,672.48 L1385.00,672.15 L1388.00,672.51 L1391.00,672.54 L1394.00,671.82 L1397.00,671.86 L1400.00,672.48 L1403.00,672.76 L1406.00,672.05 L1409.00,672.26 L1412.00,672.39 L1415.00,672.12 L1418.00,672.16 L1421.00,672.11 L1424.00,672.17 L1427.00,672.40 L1430.00,672.10 L1433.00,672.18 L1436.00,672.57 L1440.00,672.77 L1449.58,672.45 L1451.71,670.96 L1455.97,670.64 L1458.10,671.70 L1465.56,671.70 L1465.88,615.79 L1467.48,613.45 L1469.29,614.73 L1470.88,613.66 L1472.48,586.19 L1473.12,586.19 L1474.40,612.60 L1475.25,649.87 L1476.42,665.85 L1477.27,663.72 L1478.87,607.27 L1481.00,606.00 L1483.66,607.81 L1486.86,614.20 L1489.20,617.92 L1490.91,623.25 L1494.31,627.51 L1495.38,630.70 L1496.98,659.46 L1498.04,658.39 L1499.64,657.33 L1501.24,659.46 L1503.90,658.39 L1505.18,643.48 L1506.56,625.91 L1507.63,629.64 L1508.16,656.26 L1510.82,659.46 L1513.48,658.92 L1516.68,657.33 L1518.27,658.39 L1520.94,665.31 L1524.13,666.38 L1530.52,665.85 L1535.85,665.31 L1542.24,666.38 L1548.63,665.31 L1551.82,665.31 L1551.82,677.70Z" fill="#7eb26d" fill-opacity="0.8"/>
<path d="M1011.00,665.34 L1014.00,665.64 L1017.00,665.47 L1020.00,665.70 L1023.00,665.73 L1026.00,665.17 L1029.00,665.11 L1032.00,665.94 L1035.00,665.36 L1038.00,665.33 L1041.00,666.10 L1044.00,665.57 L1047.00,665.94 L1050.00,665.58 L1053.00,665.74 L1056.00,665.25 L1059.00,665.73 L1062.00,665.97 L1065.00,665.62 L1068.00,665.84 L1071.00,665.77 L1074.00,665.16 L1077.00,665.86 L1080.00,665.69 L1083.00,665.40 L1086.00,665.13 L1089.00,665.97 L1092.00,665.57 L1095.00,665.82 L1098.00,665.98 L1101.00,665.81 L1104.00,666.02 L1107.00,665.49 L1110.00,665.90 L1113.00,665.54 L1116.00,666.04 L1119.00,665.98 L1122.00,665.20 L1125.00,665.24 L1128.00,665.32 L1131.00,666.07 L1134.00,665.54 L1137.00,665.73 L1140.00,665.40 L1143.00,665.61 L1144.40,665.60 L1148.10,672.20 L1151.00,672.19 L1154.00,672.15 L1157.00,672.39 L1160.00,672.38 L1163.00,672.70 L1166.00,672.48 L1169.00,672.73 L1172.00,672.66 L1175.00,672.79 L1178.00,672.47 L1181.00,671.96 L1184.00,672.66 L1187.00,672.76 L1190.00,672.70 L1193.00,672.37 L1196.00,672.51 L1199.00,672.01 L1202.00,672.63 L1205.00,672.37 L1208.00,672.08 L1211.00,671.86 L1214.00,672.65 L1217.00,672.79 L1220.00,671.89 L1223.00,672.60 L1226.00,672.21 L1229.00,671.95 L1232.00,672.09 L1235.00,672.57 L1238.00,672.67 L1241.00,671.84 L1244.00,672.41 L1247.00,671.84 L1250.00,672.52 L1253.00,672.13 L1256.00,672.68 L1259.00,672.78 L1262.00,672.31 L1265.00,672.80 L1268.00,672.11 L1271.00,671.88 L1274.00,672.40 L1277.00,671.83 L1280.00,672.00 L1283.00,672.21 L1286.00,672.41 L1289.00,671.96 L1292.00,671.84 L1295.00,672.67 L1298.00,672.11 L1301.00,672.76 L1304.00,672.70 L1307.00,672.18 L1310.00,672.26 L1313.00,672.32 L1316.00,672.44 L1319.00,672.40 L1322.00,672.36 L1325.00,672.42 L1328.00,672.74 L1331.00,672.31 L1334.00,672.23 L1337.00,672.52 L1340.00,672.04 L1343.00,672.10 L1346.00,672.78 L1349.00,672.32 L1352.00,672.35 L1355.00,671.81 L1358.00,672.22 L1361.00,672.38 L1364.00,671.82 L1367.00,672.42 L1370.00,672.43 L1373.00,671.86 L1376.00,672.43 L1379.00,672.27 L1382.00,672.48 L1385.00,672.15 L1388.00,672.51 L1391.00,672.54 L1394.00,671.82 L1397.00,671.86 L1400.00,672.48 L1403.00,672.76 L1406.00,672.05 L1409.00,672.26 L1412.00,672.39 L1415.00,672.12 L1418.00,672.16 L1421.00,672.11 L1424.00,672.17 L1427.00,672.40 L1430.00,672.10 L1433.00,672.18 L1436.00,672.57 L1440.00,672.77 L1449.58,672.45 L1451.71,670.96 L1455.97,670.64 L1458.10,671.70 L1465.56,671.70 L1465.88,615.79 L1467.48,613.45 L1469.29,614.73 L1470.88,613.66 L1472.48,586.19 L1473.12,586.19 L1474.40,612.60 L1475.25,649.87 L1476.42,665.85 L1477.27,663.72 L1478.87,607.27 L1481.00,606.00 L1483.66,607.81 L1486.86,614.20 L1489.20,617.92 L1490.91,623.25 L1494.31,627.51 L1495.38,630.70 L1496.98,659.46 L1498.04,658.39 L1499.64,657.33 L1501.24,659.46 L1503.90,658.39 L1505.18,643.48 L1506.56,625.91 L1507.63,629.64 L1508.16,656.26 L1510.82,659.46 L1513.48,658.92 L1516.68,657.33 L1518.27,658.39 L1520.94,665.31 L1524.13,666.38 L1530.52,665.85 L1535.85,665.31 L1542.24,666.38 L1548.63,665.31 L1551.82,665.31" stroke="#7eb26d" stroke-width="3" fill="none" stroke-linejoin="round"/>
<text x="972.83" y="541.01" font-size="11.3" fill="#d8d9da" textLength="31.05" lengthAdjust="spacingAndGlyphs" stroke="#d8d9da" stroke-width="0.35" >150 W</text>
<text x="972.83" y="587.35" font-size="11.3" fill="#d8d9da" textLength="31.05" lengthAdjust="spacingAndGlyphs" stroke="#d8d9da" stroke-width="0.35" >100 W</text>
<text x="978.68" y="633.68" font-size="11.3" fill="#d8d9da" textLength="25.21" lengthAdjust="spacingAndGlyphs" stroke="#d8d9da" stroke-width="0.35" >50 W</text>
<text x="984.52" y="680.01" font-size="11.3" fill="#d8d9da" textLength="19.36" lengthAdjust="spacingAndGlyphs" stroke="#d8d9da" stroke-width="0.35" >0 W</text>
<text x="1083.55" y="693.91" font-size="11.3" fill="#d8d9da" textLength="27.38" lengthAdjust="spacingAndGlyphs" stroke="#d8d9da" stroke-width="0.35" >04:00</text>
<text x="1174.40" y="693.91" font-size="11.3" fill="#d8d9da" textLength="27.38" lengthAdjust="spacingAndGlyphs" stroke="#d8d9da" stroke-width="0.35" >08:00</text>
<text x="1265.25" y="693.91" font-size="11.3" fill="#d8d9da" textLength="27.38" lengthAdjust="spacingAndGlyphs" stroke="#d8d9da" stroke-width="0.35" >12:00</text>
<text x="1356.10" y="693.91" font-size="11.3" fill="#d8d9da" textLength="27.38" lengthAdjust="spacingAndGlyphs" stroke="#d8d9da" stroke-width="0.35" >16:00</text>
<text x="1446.95" y="693.91" font-size="11.3" fill="#d8d9da" textLength="27.38" lengthAdjust="spacingAndGlyphs" stroke="#d8d9da" stroke-width="0.35" >20:00</text>
<text x="1537.80" y="693.91" font-size="11.3" fill="#d8d9da" textLength="27.38" lengthAdjust="spacingAndGlyphs" stroke="#d8d9da" stroke-width="0.35" >00:00</text>
<rect x="982.9" y="712.0" width="11.5" height="3.6" rx="1" fill="#7eb26d"/>
<text x="998.90" y="717.21" font-size="11.3" fill="#d8d9da" textLength="77.78" lengthAdjust="spacingAndGlyphs" stroke="#d8d9da" stroke-width="0.35" >Load-power.last</text>
<text x="1082.60" y="717.21" font-size="11.3" fill="#d8d9da" textLength="43.28" lengthAdjust="spacingAndGlyphs" stroke="#d8d9da" stroke-width="0.35" >Min: 5 W</text>
<text x="1131.10" y="717.21" font-size="11.3" fill="#d8d9da" textLength="52.18" lengthAdjust="spacingAndGlyphs" stroke="#d8d9da" stroke-width="0.35" >Max: 99 W</text>
<text x="1188.50" y="717.21" font-size="11.3" fill="#d8d9da" textLength="48.98" lengthAdjust="spacingAndGlyphs" stroke="#d8d9da" stroke-width="0.35" >Avg: 12 W</text>
<text x="1243.30" y="717.21" font-size="11.3" fill="#d8d9da" textLength="66.98" lengthAdjust="spacingAndGlyphs" stroke="#d8d9da" stroke-width="0.35" >Current: 12 W</text>
<rect x="1588.5" y="501.5" width="303" height="229" rx="3" fill="#212124" stroke="#141414"/>
<path d="M1593.78,719.40 L1593.78,691.67 L1606.67,691.44 L1620.00,691.00 L1635.56,690.56 L1646.67,691.67 L1653.33,692.78 L1663.33,693.89 L1668.89,707.22 L1691.11,706.78 L1713.33,706.56 L1735.56,706.56 L1762.22,706.11 L1768.89,707.67 L1802.22,707.22 L1824.44,707.22 L1831.11,705.67 L1836.67,705.00 L1837.33,650.56 L1839.56,583.44 L1842.67,600.56 L1848.89,557.67 L1851.56,583.89 L1854.44,659.44 L1857.33,673.89 L1860.67,661.67 L1864.00,676.11 L1866.67,681.67 L1870.00,692.33 L1877.78,691.67 L1884.89,691.22 L1884.89,719.40Z" fill="rgb(31,118,189)" fill-opacity="0.18"/>
<path d="M1593.78,691.67 L1606.67,691.44 L1620.00,691.00 L1635.56,690.56 L1646.67,691.67 L1653.33,692.78 L1663.33,693.89 L1668.89,707.22 L1691.11,706.78 L1713.33,706.56 L1735.56,706.56 L1762.22,706.11 L1768.89,707.67 L1802.22,707.22 L1824.44,707.22 L1831.11,705.67 L1836.67,705.00 L1837.33,650.56 L1839.56,583.44 L1842.67,600.56 L1848.89,557.67 L1851.56,583.89 L1854.44,659.44 L1857.33,673.89 L1860.67,661.67 L1864.00,676.11 L1866.67,681.67 L1870.00,692.33 L1877.78,691.67 L1884.89,691.22" stroke="rgb(31,120,193)" stroke-width="1" fill="none" stroke-linejoin="round"/>
<path d="M1656.13,696.32A88.4,88.4 0 1 1 1824.27,696.32L1797.83,687.73A60.6,60.6 0 1 0 1682.57,687.73Z" fill="#262626"/>
<path d="M1656.13,696.32A88.4,88.4 0 0 1 1658.34,635.63L1684.08,646.13A60.6,60.6 0 0 0 1682.57,687.73Z" fill="#508642"/>
<path d="M1649.75,698.39A95.1,95.1 0 1 1 1830.65,698.39L1825.80,696.81A90.0,90.0 0 1 0 1654.60,696.81Z" fill="#508642"/>
<text x="0" y="0" font-size="14.5" fill="#d8d9da" stroke="#d8d9da" stroke-width="0.35" text-anchor="middle" transform="translate(1641.29,701.14) rotate(252.00) translate(0,5.1)">0</text>
<text x="0" y="0" font-size="14.5" fill="#d8d9da" stroke="#d8d9da" stroke-width="0.35" text-anchor="middle" transform="translate(1839.11,701.14) rotate(468.00) translate(0,5.1)">5</text>
<text x="1687.40" y="688.24" font-size="34.2" fill="#dcdcdd" font-weight="700" textLength="68.65" lengthAdjust="spacingAndGlyphs" stroke="#dcdcdd" stroke-width="0.8" >0.93</text>
<text x="1765.40" y="688.24" font-size="34.2" fill="#dcdcdd" font-weight="700" textLength="26.15" lengthAdjust="spacingAndGlyphs" stroke="#dcdcdd" stroke-width="0.8" >A</text>
<text x="1652.94" y="520.65" font-size="13.1" fill="#e3e4e5" textLength="172.99" lengthAdjust="spacingAndGlyphs" stroke="#e3e4e5" stroke-width="0.45" >Aktueller Verbrauch (Ampere)</text>
<rect x="20.5" y="741.5" width="303" height="229" rx="3" fill="#212124" stroke="#141414"/>
<text x="85.24" y="760.65" font-size="13.1" fill="#e3e4e5" textLength="172.79" lengthAdjust="spacingAndGlyphs" stroke="#e3e4e5" stroke-width="0.45" >Batterie-Temperatur (Celsius)</text>
<path d="M72.5,778.5H299.3M72.5,805.5H299.3M72.5,833.5H299.3M72.5,861.5H299.3M72.5,889.5H299.3M72.5,917.5H299.3M146.5,778.0V918.0M222.5,778.0V918.0M298.5,778.0V918.0" stroke="rgba(200,200,200,0.22)" stroke-width="1" fill="none"/>
<path d="M73.22,917.70 L73.22,881.22 L79.44,884.33 L88.33,890.11 L97.22,895.44 L103.89,898.78 L115.00,900.56 L126.11,903.00 L135.00,901.00 L143.89,899.89 L148.33,898.33 L153.89,893.89 L159.44,888.78 L166.11,884.33 L170.56,880.56 L175.00,875.44 L180.56,867.22 L185.00,860.56 L189.44,855.00 L197.22,847.22 L203.89,839.44 L210.56,832.78 L216.11,827.22 L221.67,820.11 L226.11,816.56 L232.78,815.44 L238.33,816.56 L242.11,819.00 L248.33,819.00 L253.89,821.22 L259.44,826.11 L263.89,831.22 L270.56,836.11 L279.44,840.11 L288.33,843.89 L297.67,847.89 L297.67,917.70Z" fill="#7eb26d" fill-opacity="0.8"/>
<path d="M73.22,881.22 L79.44,884.33 L88.33,890.11 L97.22,895.44 L103.89,898.78 L115.00,900.56 L126.11,903.00 L135.00,901.00 L143.89,899.89 L148.33,898.33 L153.89,893.89 L159.44,888.78 L166.11,884.33 L170.56,880.56 L175.00,875.44 L180.56,867.22 L185.00,860.56 L189.44,855.00 L197.22,847.22 L203.89,839.44 L210.56,832.78 L216.11,827.22 L221.67,820.11 L226.11,816.56 L232.78,815.44 L238.33,816.56 L242.11,819.00 L248.33,819.00 L253.89,821.22 L259.44,826.11 L263.89,831.22 L270.56,836.11 L279.44,840.11 L288.33,843.89 L297.67,847.89" stroke="#7eb26d" stroke-width="3" fill="none" stroke-linejoin="round"/>
<text x="31.90" y="781.01" font-size="11.3" fill="#d8d9da" textLength="34.98" lengthAdjust="spacingAndGlyphs" stroke="#d8d9da" stroke-width="0.35" >27.5 °C</text>
<text x="31.90" y="808.81" font-size="11.3" fill="#d8d9da" textLength="34.98" lengthAdjust="spacingAndGlyphs" stroke="#d8d9da" stroke-width="0.35" >25.0 °C</text>
<text x="31.90" y="836.61" font-size="11.3" fill="#d8d9da" textLength="34.98" lengthAdjust="spacingAndGlyphs" stroke="#d8d9da" stroke-width="0.35" >22.5 °C</text>
<text x="31.90" y="864.41" font-size="11.3" fill="#d8d9da" textLength="34.98" lengthAdjust="spacingAndGlyphs" stroke="#d8d9da" stroke-width="0.35" >20.0 °C</text>
<text x="31.90" y="892.21" font-size="11.3" fill="#d8d9da" textLength="34.98" lengthAdjust="spacingAndGlyphs" stroke="#d8d9da" stroke-width="0.35" >17.5 °C</text>
<text x="31.90" y="920.01" font-size="11.3" fill="#d8d9da" textLength="34.98" lengthAdjust="spacingAndGlyphs" stroke="#d8d9da" stroke-width="0.35" >15.0 °C</text>
<text x="132.85" y="934.11" font-size="11.3" fill="#d8d9da" textLength="27.38" lengthAdjust="spacingAndGlyphs" stroke="#d8d9da" stroke-width="0.35" >08:00</text>
<text x="208.95" y="934.11" font-size="11.3" fill="#d8d9da" textLength="27.38" lengthAdjust="spacingAndGlyphs" stroke="#d8d9da" stroke-width="0.35" >16:00</text>
<text x="285.05" y="934.11" font-size="11.3" fill="#d8d9da" textLength="27.38" lengthAdjust="spacingAndGlyphs" stroke="#d8d9da" stroke-width="0.35" >00:00</text>
<rect x="42.1" y="952.0" width="11.5" height="3.6" rx="1" fill="#7eb26d"/>
<text x="57.30" y="957.21" font-size="11.3" fill="#d8d9da" textLength="119.58" lengthAdjust="spacingAndGlyphs" stroke="#d8d9da" stroke-width="0.35" >Battery-temperature.last</text>
<text x="182.40" y="957.21" font-size="11.3" fill="#d8d9da" textLength="83.98" lengthAdjust="spacingAndGlyphs" stroke="#d8d9da" stroke-width="0.35" >Current: 21.21 °C</text>
<rect x="334.5" y="741.5" width="303" height="229" rx="3" fill="#212124" stroke="#141414"/>
<path d="M402.13,936.32A88.4,88.4 0 1 1 570.27,936.32L543.83,927.73A60.6,60.6 0 1 0 428.57,927.73Z" fill="#262626"/>
<path d="M395.75,938.39A95.1,95.1 0 1 1 576.65,938.39L571.80,936.81A90.0,90.0 0 1 0 400.60,936.81Z" fill="#508642"/>
<text x="0" y="0" font-size="14.5" fill="#d8d9da" stroke="#d8d9da" stroke-width="0.35" text-anchor="middle" transform="translate(387.29,941.14) rotate(252.00) translate(0,5.1)">0</text>
<text x="0" y="0" font-size="14.5" fill="#d8d9da" stroke="#d8d9da" stroke-width="0.35" text-anchor="middle" transform="translate(585.11,941.14) rotate(468.00) translate(0,5.1)">10</text>
<text x="458.10" y="928.24" font-size="34.2" fill="#dcdcdd" font-weight="700" textLength="19.45" lengthAdjust="spacingAndGlyphs" stroke="#dcdcdd" stroke-width="0.8" >0</text>
<text x="486.50" y="928.24" font-size="34.2" fill="#dcdcdd" font-weight="700" textLength="26.65" lengthAdjust="spacingAndGlyphs" stroke="#dcdcdd" stroke-width="0.8" >A</text>
<text x="409.99" y="760.65" font-size="13.1" fill="#e3e4e5" textLength="151.49" lengthAdjust="spacingAndGlyphs" stroke="#e3e4e5" stroke-width="0.45" >Batterie-Ladung (Ampere)</text>
<rect x="647.5" y="741.5" width="303" height="229" rx="3" fill="#212124" stroke="#141414"/>
<path d="M652.89,959.40 L652.89,959.44 L752.22,959.44 L755.56,954.56 L758.22,954.56 L761.78,948.78 L767.78,948.78 L774.00,937.67 L776.67,937.22 L785.56,919.44 L792.22,898.33 L800.00,882.78 L808.89,863.89 L815.56,846.11 L819.56,836.11 L825.56,825.44 L831.11,825.44 L834.44,819.67 L843.33,819.67 L846.67,813.89 L852.22,813.89 L855.56,808.33 L867.78,808.33 L871.11,802.78 L880.00,802.78 L883.33,797.44 L941.11,797.44 L942.67,868.33 L944.44,959.44 L944.44,959.40Z" fill="rgb(31,118,189)" fill-opacity="0.18"/>
<path d="M652.89,959.44 L752.22,959.44 L755.56,954.56 L758.22,954.56 L761.78,948.78 L767.78,948.78 L774.00,937.67 L776.67,937.22 L785.56,919.44 L792.22,898.33 L800.00,882.78 L808.89,863.89 L815.56,846.11 L819.56,836.11 L825.56,825.44 L831.11,825.44 L834.44,819.67 L843.33,819.67 L846.67,813.89 L852.22,813.89 L855.56,808.33 L867.78,808.33 L871.11,802.78 L880.00,802.78 L883.33,797.44 L941.11,797.44 L942.67,868.33 L944.44,959.44" stroke="rgb(31,120,193)" stroke-width="1" fill="none" stroke-linejoin="round"/>
<text x="750.76" y="881.32" font-size="44.0" fill="#dcdcdd" font-weight="700" textLength="24.24" lengthAdjust="spacingAndGlyphs" stroke="#dcdcdd" stroke-width="1.0" >0</text>
<text x="786.76" y="881.32" font-size="44.0" fill="#dcdcdd" font-weight="700" textLength="58.24" lengthAdjust="spacingAndGlyphs" stroke="#dcdcdd" stroke-width="1.0" >kW</text>
<text x="709.49" y="760.65" font-size="13.1" fill="#e3e4e5" textLength="177.89" lengthAdjust="spacingAndGlyphs" stroke="#e3e4e5" stroke-width="0.45" >Solar Produktion gesamt (Tag)</text>
<rect x="961.5" y="741.5" width="303" height="229" rx="3" fill="#212124" stroke="#141414"/>
<path d="M967.22,959.40 L967.22,958.33 L969.44,954.56 L975.00,954.56 L978.33,948.78 L983.89,948.78 L987.89,943.00 L995.00,943.00 L999.44,937.44 L1005.00,937.44 L1009.00,931.67 L1013.89,931.67 L1018.33,926.11 L1023.89,926.11 L1027.89,920.33 L1032.78,920.33 L1036.78,915.00 L1045.00,915.00 L1048.78,909.44 L1062.78,909.44 L1066.78,903.67 L1085.00,903.67 L1088.33,898.33 L1101.67,898.33 L1106.11,892.78 L1120.56,892.78 L1124.56,887.00 L1138.33,887.00 L1142.78,881.67 L1157.22,881.67 L1161.22,875.67 L1179.00,875.67 L1182.11,870.11 L1197.22,870.11 L1203.89,864.33 L1209.44,864.33 L1212.33,859.44 L1216.11,847.22 L1218.33,841.67 L1221.67,830.56 L1226.11,821.67 L1230.56,813.89 L1233.89,813.89 L1237.22,808.33 L1240.56,808.33 L1243.44,802.78 L1249.44,802.78 L1252.78,797.44 L1255.44,797.44 L1256.78,868.33 L1258.33,959.44 L1258.33,959.40Z" fill="rgb(31,118,189)" fill-opacity="0.18"/>
<path d="M967.22,958.33 L969.44,954.56 L975.00,954.56 L978.33,948.78 L983.89,948.78 L987.89,943.00 L995.00,943.00 L999.44,937.44 L1005.00,937.44 L1009.00,931.67 L1013.89,931.67 L1018.33,926.11 L1023.89,926.11 L1027.89,920.33 L1032.78,920.33 L1036.78,915.00 L1045.00,915.00 L1048.78,909.44 L1062.78,909.44 L1066.78,903.67 L1085.00,903.67 L1088.33,898.33 L1101.67,898.33 L1106.11,892.78 L1120.56,892.78 L1124.56,887.00 L1138.33,887.00 L1142.78,881.67 L1157.22,881.67 L1161.22,875.67 L1179.00,875.67 L1182.11,870.11 L1197.22,870.11 L1203.89,864.33 L1209.44,864.33 L1212.33,859.44 L1216.11,847.22 L1218.33,841.67 L1221.67,830.56 L1226.11,821.67 L1230.56,813.89 L1233.89,813.89 L1237.22,808.33 L1240.56,808.33 L1243.44,802.78 L1249.44,802.78 L1252.78,797.44 L1255.44,797.44 L1256.78,868.33 L1258.33,959.44" stroke="rgb(31,120,193)" stroke-width="1" fill="none" stroke-linejoin="round"/>
<text x="1064.66" y="880.92" font-size="44.0" fill="#dcdcdd" font-weight="700" textLength="25.34" lengthAdjust="spacingAndGlyphs" stroke="#dcdcdd" stroke-width="1.0" >0</text>
<text x="1100.66" y="880.92" font-size="44.0" fill="#dcdcdd" font-weight="700" textLength="58.94" lengthAdjust="spacingAndGlyphs" stroke="#dcdcdd" stroke-width="1.0" >kW</text>
<text x="1042.34" y="760.65" font-size="13.1" fill="#e3e4e5" textLength="140.79" lengthAdjust="spacingAndGlyphs" stroke="#e3e4e5" stroke-width="0.45" >Verbrauch gesamt (Tag)</text>
<rect x="1275.5" y="741.5" width="303" height="229" rx="3" fill="#212124" stroke="#141414"/>
<path d="M1343.13,936.32A88.4,88.4 0 1 1 1511.27,936.32L1484.83,927.73A60.6,60.6 0 1 0 1369.57,927.73Z" fill="#262626"/>
<path d="M1343.13,936.32A88.4,88.4 0 0 1 1411.29,822.04L1416.29,849.39A60.6,60.6 0 0 0 1369.57,927.73Z" fill="#508642"/>
<path d="M1336.75,938.39A95.1,95.1 0 0 1 1336.04,881.89L1340.93,883.35A90.0,90.0 0 0 0 1341.60,936.81Z" fill="#bf1b00"/>
<path d="M1336.04,881.89A95.1,95.1 0 0 1 1522.11,903.03L1517.02,903.35A90.0,90.0 0 0 0 1340.93,883.35Z" fill="#508642"/>
<path d="M1522.11,903.03A95.1,95.1 0 0 1 1517.65,938.39L1512.80,936.81A90.0,90.0 0 0 0 1517.02,903.35Z" fill="#bf1b00"/>
<text x="0" y="0" font-size="14.5" fill="#d8d9da" stroke="#d8d9da" stroke-width="0.35" text-anchor="middle" transform="translate(1328.29,941.14) rotate(252.00) translate(0,5.1)">11</text>
<text x="0" y="0" font-size="14.5" fill="#d8d9da" stroke="#d8d9da" stroke-width="0.35" text-anchor="middle" transform="translate(1327.51,879.36) rotate(286.56) translate(0,5.1)">11.8</text>
<text x="0" y="0" font-size="14.5" fill="#d8d9da" stroke="#d8d9da" stroke-width="0.35" text-anchor="middle" transform="translate(1530.99,902.47) rotate(446.40) translate(0,5.1)">15.5</text>
<text x="0" y="0" font-size="14.5" fill="#d8d9da" stroke="#d8d9da" stroke-width="0.35" text-anchor="middle" transform="translate(1526.11,941.14) rotate(468.00) translate(0,5.1)">16</text>
<text x="1366.30" y="928.24" font-size="34.2" fill="#dcdcdd" font-weight="700" textLength="88.15" lengthAdjust="spacingAndGlyphs" stroke="#dcdcdd" stroke-width="0.8" >13.26</text>
<text x="1462.10" y="928.24" font-size="34.2" fill="#dcdcdd" font-weight="700" textLength="25.05" lengthAdjust="spacingAndGlyphs" stroke="#dcdcdd" stroke-width="0.8" >V</text>
<text x="1354.39" y="760.65" font-size="13.1" fill="#e3e4e5" textLength="144.29" lengthAdjust="spacingAndGlyphs" stroke="#e3e4e5" stroke-width="0.45" >Batterie-Spannung (Volt)</text>
<rect x="1588.5" y="741.5" width="303" height="229" rx="3" fill="#212124" stroke="#141414"/>
<text x="1647.89" y="760.65" font-size="13.1" fill="#e3e4e5" textLength="183.49" lengthAdjust="spacingAndGlyphs" stroke="#e3e4e5" stroke-width="0.45" >EPSOLAR-Temperatur (Celsius)</text>
<path d="M1640.0,778.5H1867.4M1640.0,824.5H1867.4M1640.0,870.5H1867.4M1640.0,917.5H1867.4M1714.5,778.0V918.0M1790.5,778.0V918.0M1866.5,778.0V918.0" stroke="rgba(200,200,200,0.22)" stroke-width="1" fill="none"/>
<path d="M1641.11,917.70 L1641.11,863.89 L1651.11,868.33 L1664.44,875.00 L1677.78,880.78 L1688.89,883.44 L1700.00,885.00 L1704.44,880.56 L1713.33,873.89 L1720.00,867.67 L1724.44,868.33 L1733.33,863.44 L1740.00,857.22 L1746.67,847.22 L1748.89,840.56 L1755.56,830.56 L1762.22,822.78 L1768.89,815.44 L1773.78,808.33 L1776.67,812.78 L1782.22,807.89 L1790.00,800.56 L1794.44,795.44 L1800.00,791.00 L1806.67,788.78 L1812.22,791.67 L1818.89,792.33 L1823.33,796.11 L1827.78,800.56 L1831.11,807.22 L1836.67,811.67 L1842.22,814.56 L1851.11,823.89 L1858.89,829.44 L1866.22,833.89 L1866.22,917.70Z" fill="#7eb26d" fill-opacity="0.8"/>
<path d="M1641.11,863.89 L1651.11,868.33 L1664.44,875.00 L1677.78,880.78 L1688.89,883.44 L1700.00,885.00 L1704.44,880.56 L1713.33,873.89 L1720.00,867.67 L1724.44,868.33 L1733.33,863.44 L1740.00,857.22 L1746.67,847.22 L1748.89,840.56 L1755.56,830.56 L1762.22,822.78 L1768.89,815.44 L1773.78,808.33 L1776.67,812.78 L1782.22,807.89 L1790.00,800.56 L1794.44,795.44 L1800.00,791.00 L1806.67,788.78 L1812.22,791.67 L1818.89,792.33 L1823.33,796.11 L1827.78,800.56 L1831.11,807.22 L1836.67,811.67 L1842.22,814.56 L1851.11,823.89 L1858.89,829.44 L1866.22,833.89" stroke="#7eb26d" stroke-width="3" fill="none" stroke-linejoin="round"/>
<text x="1599.60" y="781.01" font-size="11.3" fill="#d8d9da" textLength="35.08" lengthAdjust="spacingAndGlyphs" stroke="#d8d9da" stroke-width="0.35" >30.0 °C</text>
<text x="1599.60" y="827.35" font-size="11.3" fill="#d8d9da" textLength="35.08" lengthAdjust="spacingAndGlyphs" stroke="#d8d9da" stroke-width="0.35" >25.0 °C</text>
<text x="1599.60" y="873.68" font-size="11.3" fill="#d8d9da" textLength="35.08" lengthAdjust="spacingAndGlyphs" stroke="#d8d9da" stroke-width="0.35" >20.0 °C</text>
<text x="1599.60" y="920.01" font-size="11.3" fill="#d8d9da" textLength="35.08" lengthAdjust="spacingAndGlyphs" stroke="#d8d9da" stroke-width="0.35" >15.0 °C</text>
<text x="1700.95" y="934.11" font-size="11.3" fill="#d8d9da" textLength="27.38" lengthAdjust="spacingAndGlyphs" stroke="#d8d9da" stroke-width="0.35" >08:00</text>
<text x="1777.05" y="934.11" font-size="11.3" fill="#d8d9da" textLength="27.38" lengthAdjust="spacingAndGlyphs" stroke="#d8d9da" stroke-width="0.35" >16:00</text>
<text x="1853.15" y="934.11" font-size="11.3" fill="#d8d9da" textLength="27.38" lengthAdjust="spacingAndGlyphs" stroke="#d8d9da" stroke-width="0.35" >00:00</text>
<rect x="1610.0" y="952.0" width="11.5" height="3.6" rx="1" fill="#7eb26d"/>
<text x="1625.60" y="957.21" font-size="11.3" fill="#d8d9da" textLength="122.88" lengthAdjust="spacingAndGlyphs" stroke="#d8d9da" stroke-width="0.35" >Charger-temperature.last</text>
<text x="1754.00" y="957.21" font-size="11.3" fill="#d8d9da" textLength="68.48" lengthAdjust="spacingAndGlyphs" stroke="#d8d9da" stroke-width="0.35" >Current: 24 °C</text>
<rect x="20.5" y="981.5" width="303" height="129" rx="3" fill="#212124" stroke="#141414"/>
<text x="55.39" y="1000.75" font-size="13.1" fill="#e3e4e5" textLength="232.49" lengthAdjust="spacingAndGlyphs" stroke="#e3e4e5" stroke-width="0.45" >Solar Produktion gesamt (Seit 11/2016)</text>
<text x="82.22" y="1061.38" font-size="45.0" fill="#dcdcdd" font-weight="700" textLength="108.70" lengthAdjust="spacingAndGlyphs" stroke="#dcdcdd" stroke-width="1.0" >19.56</text>
<text x="201.72" y="1061.38" font-size="45.0" fill="#dcdcdd" font-weight="700" textLength="60.60" lengthAdjust="spacingAndGlyphs" stroke="#dcdcdd" stroke-width="1.0" >kW</text>
<rect x="334.5" y="981.5" width="303" height="129" rx="3" fill="#212124" stroke="#141414"/>
<text x="392.04" y="1000.75" font-size="13.1" fill="#e3e4e5" textLength="186.79" lengthAdjust="spacingAndGlyphs" stroke="#e3e4e5" stroke-width="0.45" >Solar Produktion in diesem Jahr</text>
<text x="395.43" y="1061.38" font-size="45.0" fill="#dcdcdd" font-weight="700" textLength="109.80" lengthAdjust="spacingAndGlyphs" stroke="#dcdcdd" stroke-width="1.0" >18.42</text>
<text x="516.02" y="1061.38" font-size="45.0" fill="#dcdcdd" font-weight="700" textLength="60.60" lengthAdjust="spacingAndGlyphs" stroke="#dcdcdd" stroke-width="1.0" >kW</text>
<rect x="647.5" y="981.5" width="303" height="129" rx="3" fill="#212124" stroke="#141414"/>
<text x="699.59" y="1000.75" font-size="13.1" fill="#e3e4e5" textLength="197.29" lengthAdjust="spacingAndGlyphs" stroke="#e3e4e5" stroke-width="0.45" >Solar Produktion in diesem Monat</text>
<text x="721.02" y="1061.38" font-size="45.0" fill="#dcdcdd" font-weight="700" textLength="85.30" lengthAdjust="spacingAndGlyphs" stroke="#dcdcdd" stroke-width="1.0" >9.27</text>
<text x="817.12" y="1061.38" font-size="45.0" fill="#dcdcdd" font-weight="700" textLength="60.60" lengthAdjust="spacingAndGlyphs" stroke="#dcdcdd" stroke-width="1.0" >kW</text>
<rect x="961.5" y="981.5" width="303" height="129" rx="3" fill="#212124" stroke="#141414"/>
<text x="998.54" y="1000.75" font-size="13.1" fill="#e3e4e5" textLength="227.79" lengthAdjust="spacingAndGlyphs" stroke="#e3e4e5" stroke-width="0.45" >Solar Verbrauch gesamt (Seit 10/2016)</text>
<text x="1022.42" y="1061.38" font-size="45.0" fill="#dcdcdd" font-weight="700" textLength="110.30" lengthAdjust="spacingAndGlyphs" stroke="#dcdcdd" stroke-width="1.0" >15.43</text>
<text x="1143.52" y="1061.38" font-size="45.0" fill="#dcdcdd" font-weight="700" textLength="60.60" lengthAdjust="spacingAndGlyphs" stroke="#dcdcdd" stroke-width="1.0" >kW</text>
<rect x="1275.5" y="981.5" width="303" height="129" rx="3" fill="#212124" stroke="#141414"/>
<text x="1335.04" y="1000.75" font-size="13.1" fill="#e3e4e5" textLength="182.79" lengthAdjust="spacingAndGlyphs" stroke="#e3e4e5" stroke-width="0.45" >Solar Verbrauch in diesem Jahr</text>
<text x="1336.42" y="1061.38" font-size="45.0" fill="#dcdcdd" font-weight="700" textLength="110.30" lengthAdjust="spacingAndGlyphs" stroke="#dcdcdd" stroke-width="1.0" >14.46</text>
<text x="1457.52" y="1061.38" font-size="45.0" fill="#dcdcdd" font-weight="700" textLength="60.60" lengthAdjust="spacingAndGlyphs" stroke="#dcdcdd" stroke-width="1.0" >kW</text>
<rect x="1588.5" y="981.5" width="303" height="129" rx="3" fill="#212124" stroke="#141414"/>
<text x="1642.54" y="1000.75" font-size="13.1" fill="#e3e4e5" textLength="193.79" lengthAdjust="spacingAndGlyphs" stroke="#e3e4e5" stroke-width="0.45" >Solar Verbrauch in diesem Monat</text>
<text x="1661.42" y="1061.38" font-size="45.0" fill="#dcdcdd" font-weight="700" textLength="85.80" lengthAdjust="spacingAndGlyphs" stroke="#dcdcdd" stroke-width="1.0" >6.97</text>
<text x="1758.02" y="1061.38" font-size="45.0" fill="#dcdcdd" font-weight="700" textLength="60.60" lengthAdjust="spacingAndGlyphs" stroke="#dcdcdd" stroke-width="1.0" >kW</text>
</svg>
</body></html>
